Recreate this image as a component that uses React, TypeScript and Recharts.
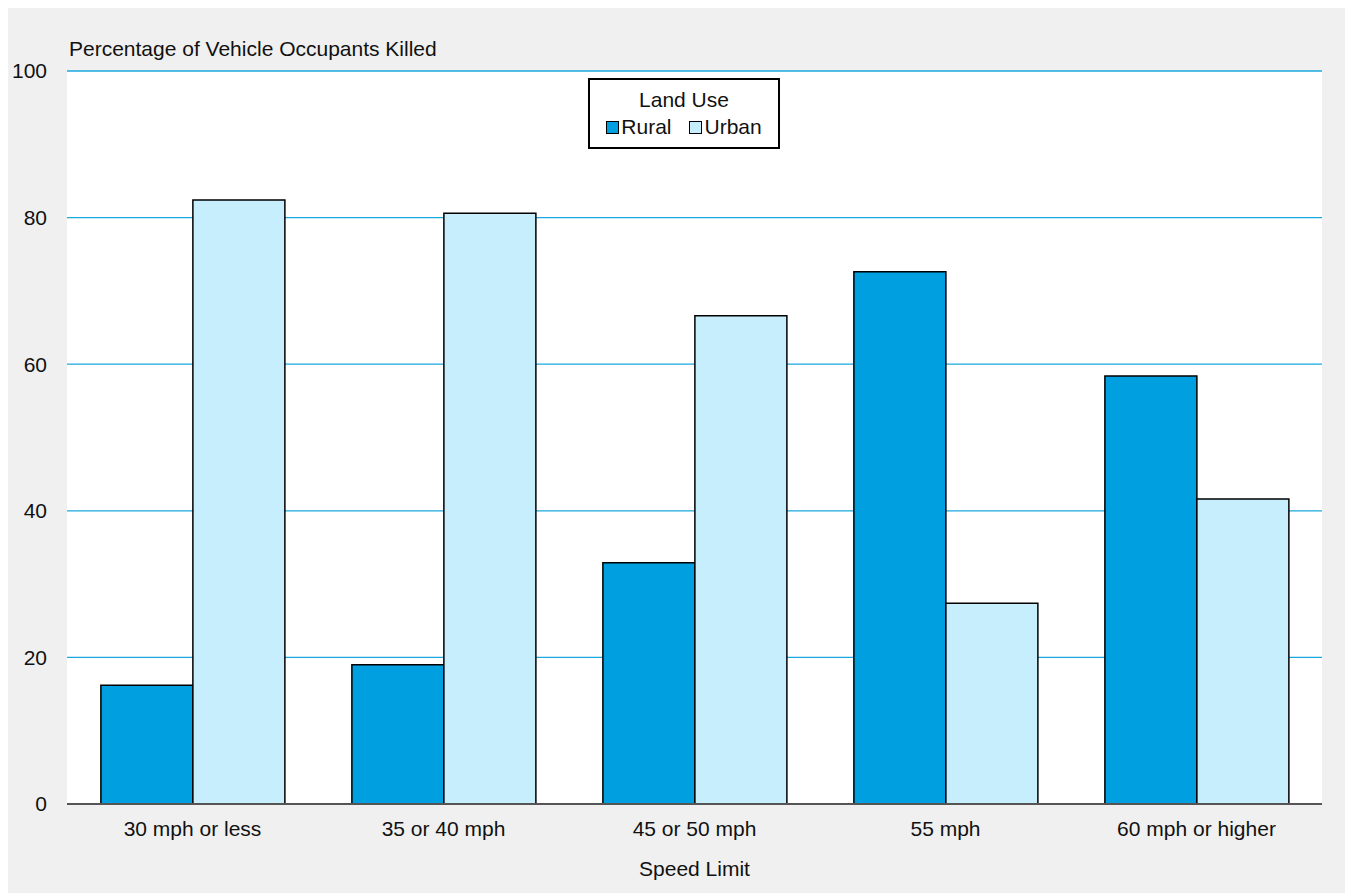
import React from "react";
import { BarChart, Bar, XAxis, YAxis, CartesianGrid, Label } from "recharts";

const categories = ["30 mph or less", "35 or 40 mph", "45 or 50 mph", "55 mph", "60 mph or higher"];
const rural = [16.2, 19.0, 32.9, 72.6, 58.4];
const urban = [82.4, 80.6, 66.6, 27.4, 41.6];
const yTicks = [0, 20, 40, 60, 80, 100];

const RURAL = "#009fdf";
const URBAN = "#c7eefd";
const FONT = "'Liberation Sans', Arial, sans-serif";
const FS = 21;

const data = categories.map((c, i) => ({ name: c, Rural: rural[i], Urban: urban[i] }));

const LegendBox = () => (
  <div
    style={{
      position: "absolute",
      left: 580,
      top: 70,
      width: 188,
      height: 67,
      border: "2px solid #000",
      background: "#fff",
      fontFamily: FONT,
      fontSize: FS,
      color: "#111",
      boxSizing: "content-box",
    }}
  >
    <div style={{ textAlign: "center", marginTop: 8, lineHeight: "24px" }}>Land Use</div>
    <div style={{ display: "flex", justifyContent: "center", alignItems: "center", marginTop: 3, lineHeight: "24px" }}>
      <span style={{ display: "inline-block", width: 11, height: 11, background: RURAL, border: "1px solid #000", marginRight: 2 }} />
      <span style={{ marginRight: 18 }}>Rural</span>
      <span style={{ display: "inline-block", width: 11, height: 11, background: URBAN, border: "1px solid #000", marginRight: 2 }} />
      <span>Urban</span>
    </div>
  </div>
);

export default function App() {
  return (
    <div style={{ position: "relative", width: 1345, height: 885, background: "#f0f0f0", fontFamily: FONT }}>
      <BarChart
        width={1345}
        height={885}
        data={data}
        margin={{ top: 63, right: 31, left: 9, bottom: 29 }}
        barCategoryGap="13.5%"
        barGap={0}
      >
        <CartesianGrid vertical={false} stroke="#1aa7dd" strokeWidth={1.3} fill="#ffffff" fillOpacity={1} />
        <XAxis
          dataKey="name"
          axisLine={{ stroke: "#555", strokeWidth: 2 }}
          tickLine={false}
          tickSize={0}
          tickMargin={17}
          tick={{ fill: "#111", fontSize: FS, fontFamily: FONT }}
          height={60}
        >
          <Label value="Speed Limit" position="insideBottom" offset={-12} style={{ fill: "#111", fontSize: FS, fontFamily: FONT }} />
        </XAxis>
        <YAxis
          domain={[0, 100]}
          ticks={yTicks}
          axisLine={false}
          tickLine={false}
          tickSize={0}
          tickMargin={20}
          width={50}
          interval={0}
          tick={{ fill: "#111", fontSize: FS, fontFamily: FONT }}
        />
        <Bar dataKey="Rural" fill={RURAL} stroke="#000" strokeWidth={1.5} isAnimationActive={false} />
        <Bar dataKey="Urban" fill={URBAN} stroke="#000" strokeWidth={1.5} isAnimationActive={false} />
      </BarChart>
      <div style={{ position: "absolute", left: 61, top: 29, fontSize: FS, color: "#111", lineHeight: "24px" }}>
        Percentage of Vehicle Occupants Killed
      </div>
      <LegendBox />
    </div>
  );
}
